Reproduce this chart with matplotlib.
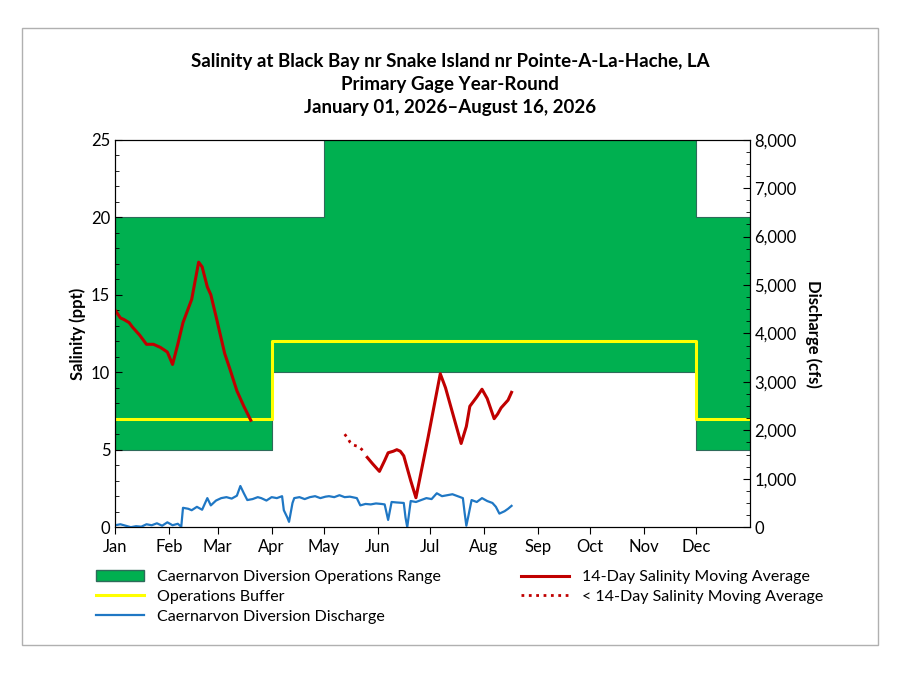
import matplotlib
matplotlib.use("Agg")
import matplotlib.pyplot as plt
from matplotlib.patches import Patch, Rectangle
from matplotlib.lines import Line2D
import numpy as np

plt.rcParams['font.family'] = ['Lato', 'DejaVu Sans']

months = ["Jan","Feb","Mar","Apr","May","Jun","Jul","Aug","Sep","Oct","Nov","Dec"]
month_start = [0,31,59,90,120,151,181,212,243,273,304,334]

# operations range (ppt) step edges
range_x = [0, 90, 120, 334, 365]
range_low = [5, 10, 10, 5]
range_high = [20, 20, 30, 20]
buffer_x = [0, 90, 334, 365]
buffer_val = [7, 12, 7]

sal_day = [0,3,5,8,10,14,18,22,26,30,33,36,39,44,48,50,53,55,58,63,66,70,74,78]
sal_val = [14.0,13.5,13.4,13.2,12.9,12.4,11.8,11.8,11.6,11.3,10.5,11.8,13.2,14.7,17.1,16.8,15.5,15.0,13.6,11.2,10.2,8.8,7.8,6.9]
sal2_day = [145,148,152,155,157,160,162,164,166,170,173,180,187,190,194,199,202,204,208,211,214,218,220,222,226,228]
sal2_val = [4.5,4.1,3.6,4.3,4.8,4.9,5.0,4.9,4.6,3.0,1.9,5.8,9.9,9.0,7.4,5.4,6.5,7.8,8.4,8.9,8.3,7.0,7.3,7.7,8.2,8.7]
salp_day = [132,134,135,137,140,143]
salp_val = [6.0,5.7,5.5,5.3,5.2,4.9]

q_day = [0,3,6,9,12,15,18,21,24,27,30,33,36,38,39,42,44,47,50,53,55,58,61,64,67,70,72,74,76,79,82,84,87,90,93,96,97,99,100,102,103,106,109,112,115,118,121,123,126,129,132,135,139,141,144,147,150,153,155,157,159,162,166,167,168,170,173,176,179,182,185,188,191,194,197,200,201,202,203,205,208,211,214,217,219,221,224,226,228]
q_val = [40,60,30,0,20,10,60,40,80,30,100,40,70,10,400,380,350,420,360,600,450,550,600,620,590,650,850,700,560,580,620,600,550,620,600,640,350,200,110,500,600,620,580,620,640,600,630,640,620,660,620,630,600,450,480,470,490,480,470,150,520,510,500,200,0,540,520,560,600,580,700,640,660,680,640,600,300,30,200,560,520,600,540,500,420,280,330,380,440]

fig = plt.figure(figsize=(9, 6.75), dpi=100)
fig.patches.append(Rectangle((0.024, 0.044), 0.951, 0.914, transform=fig.transFigure,
                             fill=False, edgecolor='#b0b0b0', lw=1))
ax = fig.add_axes([0.128, 0.219, 0.705, 0.574])
ax2 = ax.twinx()

green = '#00b050'
ax.fill_between(range_x, range_low + [range_low[-1]], range_high + [range_high[-1]],
                step='post', color=green, edgecolor='#2e6b5a', lw=0.8, zorder=1)
ax.step(buffer_x, buffer_val + [buffer_val[-1]], where='post', color='#ffff00', lw=2.2, zorder=3)
ax.plot(sal_day, sal_val, color='#c00000', lw=2.2, zorder=4)
ax.plot(sal2_day, sal2_val, color='#c00000', lw=2.2, zorder=4)
ax.plot(salp_day, salp_val, color='#c00000', lw=2, ls=':', zorder=4)
ax2.plot(q_day, q_val, color='#1f77c4', lw=1.6)

ax.set_xlim(0, 365)
ax.set_ylim(0, 25)
ax2.set_ylim(0, 8000)
ax.set_xticks(month_start)
ax.set_xticklabels(months)
ax.set_yticks([0,5,10,15,20,25])
ax.set_yticks(np.arange(0, 25.1, 1), minor=True)
ax2.set_yticks(np.arange(0, 8001, 1000))
ax2.set_yticklabels([f"{v:,}" for v in range(0, 8001, 1000)])
ax2.set_yticks(np.arange(0, 8001, 250), minor=True)
for a in (ax, ax2):
    a.tick_params(which='major', direction='in', length=5, labelsize=12)
    a.tick_params(which='minor', direction='in', length=3)
    for s in a.spines.values():
        s.set_color('black')
ax.tick_params(axis='x', direction='out', length=5)
ax.set_ylabel("Salinity (ppt)", fontsize=12, fontweight='bold')
ax2.set_ylabel("Discharge (cfs)", fontsize=12, fontweight='bold', rotation=270, labelpad=18)
fig.text(0.5, 0.875, "Salinity at Black Bay nr Snake Island nr Pointe-A-La-Hache, LA\nPrimary Gage Year-Round\nJanuary 01, 2026\u2013August 16, 2026",
         ha='center', va='center', fontsize=13.5, fontweight='bold', linespacing=1.45)

h = [Patch(facecolor=green, edgecolor='#2e6b5a'),
     Line2D([], [], color='#ffff00', lw=2.2),
     Line2D([], [], color='#1f77c4', lw=1.6),
     Line2D([], [], color='#c00000', lw=2.2),
     Line2D([], [], color='#c00000', lw=2, ls=':')]
l = ["Caernarvon Diversion Operations Range", "Operations Buffer", "Caernarvon Diversion Discharge",
     "14-Day Salinity Moving Average", "< 14-Day Salinity Moving Average"]
fig.legend(h, l, loc='upper left', bbox_to_anchor=(0.1, 0.165), ncol=2, frameon=False,
           fontsize=11.5, handlelength=3, columnspacing=5, labelspacing=0.35, borderaxespad=0)
fig.savefig("out.png", dpi=100)
